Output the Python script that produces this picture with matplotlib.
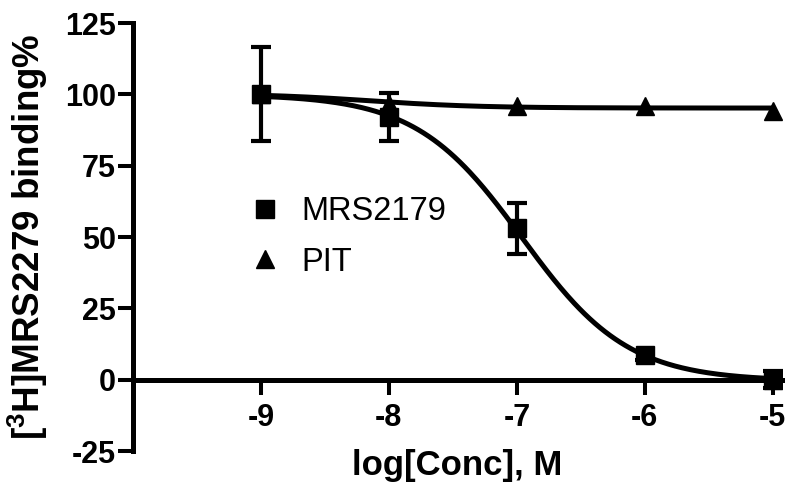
import numpy as np
import matplotlib
matplotlib.use("Agg")
import matplotlib.pyplot as plt
from matplotlib.lines import Line2D

plt.rcParams['font.family'] = ['Liberation Sans', 'DejaVu Sans']
plt.rcParams['mathtext.fontset'] = 'custom'
plt.rcParams['mathtext.rm'] = 'Liberation Sans:bold'
plt.rcParams['mathtext.it'] = 'Liberation Sans:bold'
plt.rcParams['mathtext.bf'] = 'Liberation Sans:bold'
plt.rcParams['mathtext.default'] = 'rm'

# ---- data ----
log_conc = [-9, -8, -7, -6, -5]
mrs2179_mean = [100.0, 92.0, 53.0, 8.5, 0.0]
mrs2179_err = [16.5, 8.5, 9.0, 1.5, 3.0]
pit_mean = [100.0, 96.5, 95.8, 95.8, 94.3]
pit_err = [0.0, 0.0, 0.0, 0.0, 0.0]

# sigmoidal fit parameters (top, bottom, logIC50, hill)
mrs_fit = (100.0, -0.5, -6.96, 1.05)
pit_fit = (100.3, 95.2, -8.15, 1.0)

x_ticks = [-9, -8, -7, -6, -5]
y_ticks = [-25, 0, 25, 50, 75, 100, 125]
legend_labels = ['MRS2179', 'PIT']


def sigmoid(x, p):
    top, bottom, logic50, hill = p
    return bottom + (top - bottom) / (1 + 10 ** ((x - logic50) * hill))


fig = plt.figure(figsize=(8, 4.96), dpi=100)
ax = fig.add_axes([0.16625, 0.0907, 0.811, 0.8629])

xs = np.linspace(-9, -5, 300)
lw = 3.6
ax.plot(xs, sigmoid(xs, pit_fit), color='black', lw=lw, zorder=2, solid_capstyle='butt')
ax.plot(xs, sigmoid(xs, mrs_fit), color='black', lw=lw, zorder=2, solid_capstyle='butt')

ax.errorbar(log_conc, pit_mean, yerr=pit_err, fmt='^', color='black', ms=13,
            capsize=0, elinewidth=3, zorder=3)
ax.errorbar(log_conc, mrs2179_mean, yerr=mrs2179_err, fmt='s', color='black', ms=13,
            capsize=7.5, capthick=3, elinewidth=3, zorder=4)

ax.set_xlim(-10, -4.93)
ax.set_ylim(-25, 125)
ax.set_xticks(x_ticks)
ax.set_yticks(y_ticks)
ax.set_xticklabels([str(v) for v in x_ticks])
ax.set_yticklabels([str(v) for v in y_ticks])

for s in ['top', 'right']:
    ax.spines[s].set_visible(False)
ax.spines['bottom'].set_position(('data', 0))
ax.spines['left'].set_linewidth(lw)
ax.spines['bottom'].set_linewidth(lw)
ax.spines['left'].set_capstyle('projecting')

ax.tick_params(axis='both', direction='out', length=10.5, width=2.9, color='black',
               labelsize=22)
ax.tick_params(axis='x', pad=6)
ax.tick_params(axis='y', pad=2)
for lab in ax.get_xticklabels() + ax.get_yticklabels():
    lab.set_fontweight('bold')

ax.set_xlabel('log[Conc], M', fontsize=25, fontweight='bold')
ax.xaxis.set_label_coords(0.5, 0.005)
ax.set_ylabel(r'[$^{3}$H]MRS2279 binding%', fontsize=26.5, fontweight='bold')
ax.yaxis.set_label_coords(-0.128, 0.5)

handles = [Line2D([], [], marker='s', ls='none', color='black', ms=12.5),
           Line2D([], [], marker='^', ls='none', color='black', ms=12.5)]
ax.legend(handles, legend_labels, loc='center left', bbox_to_anchor=(0.179, 0.5),
          frameon=False, fontsize=23.5, handlelength=1.0, handletextpad=0.6,
          labelspacing=0.6, borderaxespad=0, borderpad=0)

fig.savefig('out.png', dpi=100)
